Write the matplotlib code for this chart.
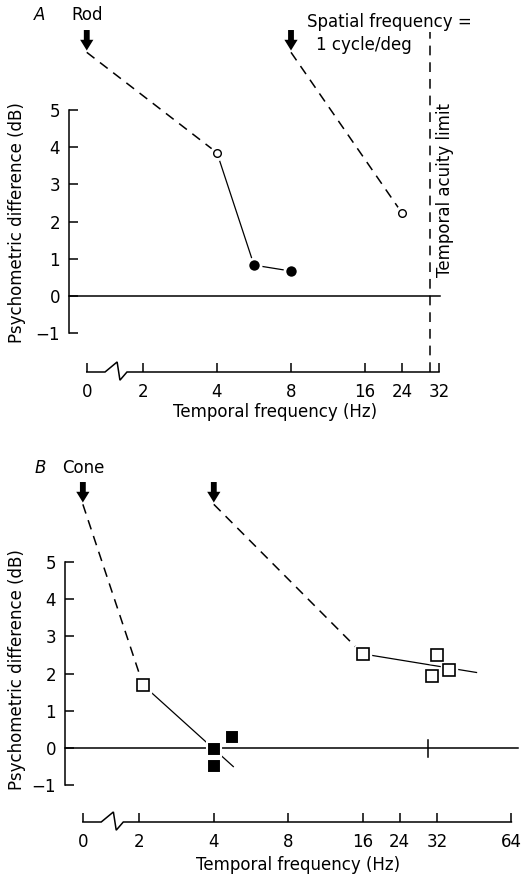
import numpy as np
import matplotlib
matplotlib.use('Agg')
import matplotlib.pyplot as plt

# --- data (Hz, dB) ---
rod_open_f = [4, 24]
rod_open_y = [3.85, 2.23]
rod_filled_f = [6, 8]
rod_filled_y = [0.83, 0.67]
rod_arrow_f = [0, 8]
rod_ticks = [0, 2, 4, 8, 16, 24, 32]

cone_open_f = [2.1, 16, 31, 32, 37]
cone_open_y = [1.69, 2.53, 1.93, 2.5, 2.1]
cone_filled_f = [4, 4, 5]
cone_filled_y = [-0.03, -0.48, 0.3]
cone_fit_low_f = [2.1, 5.05]
cone_fit_low_y = [1.69, -0.5]
cone_fit_high_f = [16, 49]
cone_fit_high_y = [2.53, 2.03]
cone_arrow_f = [0, 4]
cone_ticks = [0, 2, 4, 8, 16, 24, 32, 64]

acuity_limit = 30
arrow_tip = 6.6
arrow_top = 7.15
y_ticks = [-1, 0, 1, 2, 3, 4, 5]

# piecewise axis: 0 sits in front of a break, then octaves 2..64
f_knots = [-2, 0, 2, 4, 8, 16, 32, 64, 128]
u_knots = [-0.52, 0.24, 1, 2, 3, 4, 5, 6, 7]


def fwd(f):
    return np.interp(f, f_knots, u_knots)


def inv(u):
    return np.interp(u, u_knots, f_knots)


plt.rcParams['font.family'] = ['DejaVu Sans']
plt.rcParams['font.size'] = 12
plt.rcParams['lines.scale_dashes'] = False
DASH = (0, (7, 5))
W, H = 525, 874

fig = plt.figure(figsize=(W / 100, H / 100), dpi=100)


def make_axes(left, right, top, bottom, ppu, y0px, umax):
    ax = fig.add_axes([left / W, (H - bottom) / H, (right - left) / W, (bottom - top) / H])
    ax.set_xscale('function', functions=(fwd, inv))
    ax.set_xlim(inv(0), inv(umax))
    ax.set_ylim(-(bottom - y0px) / ppu, (y0px - top) / ppu)
    for s in ['top', 'right', 'bottom']:
        ax.spines[s].set_visible(False)
    ax.spines['left'].set_bounds(-1, 5)
    ax.spines['left'].set_linewidth(1.1)
    ax.set_yticks(y_ticks)
    ax.tick_params(axis='both', direction='in', length=6.5, width=1.1)
    ax.tick_params(axis='y', pad=6.5)
    ax.tick_params(axis='x', pad=8)
    ax.patch.set_alpha(0)
    return ax


def broken_baseline(ax, fmax):
    yb = ax.get_ylim()[0]
    xs = [0, 0.65, 1.08, 1.18, 1.43, fmax]
    ys = [yb, yb, yb + 0.27, yb - 0.22, yb, yb]
    ax.plot(xs, ys, color='black', lw=1.1, clip_on=False, solid_joinstyle='miter')


def arrows(ax, fs):
    for f in fs:
        ax.annotate('', xy=(f, arrow_tip), xytext=(f, arrow_top), annotation_clip=False,
                    arrowprops=dict(arrowstyle='simple,head_width=0.68,head_length=0.55,tail_width=0.3',
                                    mutation_scale=14, fc='black', ec='black', lw=0,
                                    shrinkA=0, shrinkB=0))


# ---------------- panel A: rod ----------------
axA = make_axes(69, 525, 0, 372, 37.2, 296, 456 / 74)
axA.set_xticks(rod_ticks)
axA.set_xticklabels([str(t) for t in rod_ticks])
broken_baseline(axA, 32)
axA.plot([axA.get_xlim()[0], 32.3], [0, 0], color='black', lw=1.1, clip_on=False)
axA.plot([acuity_limit, acuity_limit], [axA.get_ylim()[0], 7.1], color='black', lw=1.1,
         linestyle=DASH, clip_on=False)
arrows(axA, rod_arrow_f)
for fa, fo, yo in zip(rod_arrow_f, rod_open_f, rod_open_y):
    axA.plot([fa, fo], [arrow_tip - 0.05, yo], color='black', lw=1.1, linestyle=DASH, clip_on=False)
axA.plot([rod_open_f[0]] + rod_filled_f, [rod_open_y[0]] + rod_filled_y, color='black', lw=0.9)
axA.plot(rod_open_f, rod_open_y, 'o', ms=10, color='white', zorder=3)
axA.plot(rod_open_f, rod_open_y, 'o', ms=5.5, mfc='white', mec='black', mew=1, zorder=4)
axA.plot(rod_filled_f, rod_filled_y, 'o', ms=9.5, mfc='black', mec='white', mew=2, zorder=4)

axA.text(0, 7.55, 'Rod', ha='center', va='center', clip_on=False)
axA.text(0.522, 0.941, 'Spatial frequency =', transform=axA.transAxes, ha='left', va='center')
axA.text(0.542, 0.879, '1 cycle/deg', transform=axA.transAxes, ha='left', va='center')
axA.text(0.825, 0.489, 'Temporal acuity limit', transform=axA.transAxes, rotation=90,
         ha='center', va='center')
axA.text(0.452, -0.1075, 'Temporal frequency (Hz)', transform=axA.transAxes, ha='center', va='center')
axA.text(-0.114, 0.403, 'Psychometric difference (dB)', transform=axA.transAxes, rotation=90,
         ha='center', va='center')
fig.text(40 / W, (H - 15) / H, 'A', style='italic', ha='center', va='center', fontsize=12)

# ---------------- panel B: cone ----------------
axB = make_axes(65, 525, 440, 822, 37.2, 748, 460 / 74.4)
axB.set_xticks(cone_ticks)
axB.set_xticklabels([str(t) for t in cone_ticks])
broken_baseline(axB, 64)
axB.plot([axB.get_xlim()[0], 69.7], [0, 0], color='black', lw=1.1, clip_on=False)
axB.plot([acuity_limit, acuity_limit], [-0.24, 0.22], color='black', lw=1.1)
arrows(axB, cone_arrow_f)
for fa, fo, yo in zip(cone_arrow_f, cone_open_f[:2], cone_open_y[:2]):
    axB.plot([fa, fo], [arrow_tip - 0.05, yo], color='black', lw=1.1, linestyle=DASH, clip_on=False)
axB.plot(cone_fit_low_f, cone_fit_low_y, color='black', lw=0.9)
axB.plot(cone_fit_high_f, cone_fit_high_y, color='black', lw=0.9)
axB.plot(cone_open_f, cone_open_y, 's', ms=11, color='white', zorder=3)
axB.plot(cone_open_f, cone_open_y, 's', ms=8.5, mfc='white', mec='black', mew=1.2, zorder=4)
axB.plot(cone_filled_f, cone_filled_y, 's', ms=10.5, mfc='black', mec='white', mew=1.5, zorder=4)

axB.text(0, 7.53, 'Cone', ha='center', va='center', clip_on=False)
axB.text(0.5065, -0.1126, 'Temporal frequency (Hz)', transform=axB.transAxes, ha='center', va='center')
axB.text(-0.104, 0.398, 'Psychometric difference (dB)', transform=axB.transAxes, rotation=90,
         ha='center', va='center')
fig.text(40 / W, (H - 468) / H, 'B', style='italic', ha='center', va='center', fontsize=12)

fig.savefig('out.png', dpi=100)
